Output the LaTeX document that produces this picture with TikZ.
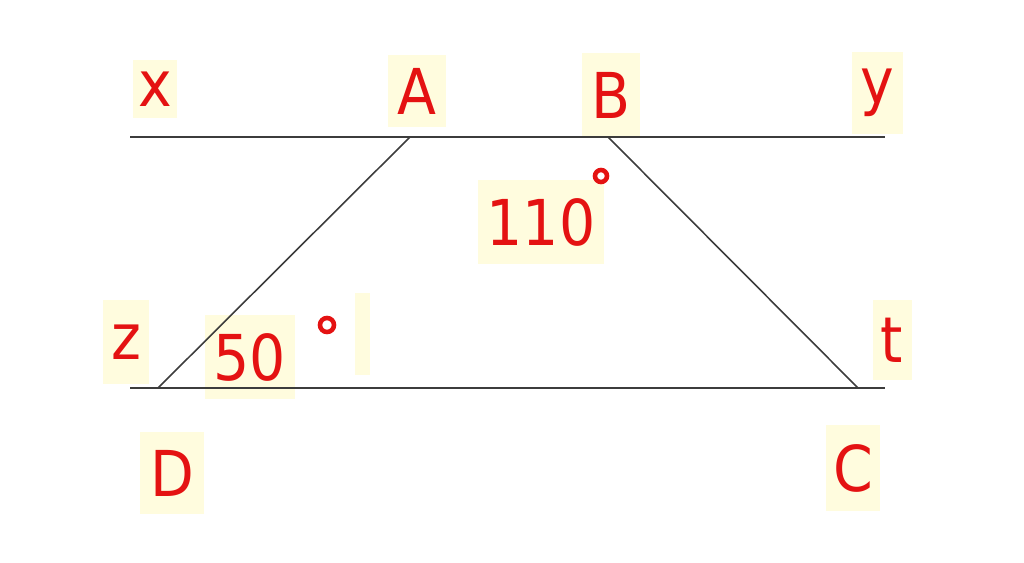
\documentclass[tikz,border=0pt]{standalone}
\usepackage{fontspec}
\setsansfont{DejaVu Sans Condensed}
\usepackage{tikz}
\usetikzlibrary{calc,positioning}
\definecolor{markred}{RGB}{228,18,18}
\definecolor{labelbg}{RGB}{255,252,222}
\definecolor{lineclr}{RGB}{60,60,60}
\tikzset{%
	lbl/.style    = {fill=labelbg, text=markred, inner sep=0pt, font=\sffamily\fontsize{36}{36}\selectfont},
	edge/.style   = {draw=lineclr, line width=0.9pt},
	degmark/.style = {draw=markred, line width=2.6pt},
}

\begin{document}
\begin{tikzpicture}[x=0.02cm,y=-0.02cm]
	\useasboundingbox (0,0) rectangle (1024,563);
	
	% points of the trapezium
	\coordinate (xx) at (130,137);
	\coordinate (yy) at (885,137);
	\coordinate (zz) at (130,388);
	\coordinate (tt) at (885,388);
	\coordinate (A) at (410,137);
	\coordinate (B) at (608,137);
	\coordinate (C) at (858,388);
	\coordinate (D) at (158,388);
	
	% label boxes
	\node[lbl, minimum width=0.9cm, minimum height=1.16cm] (labx) at (155,89) {x};
	\node[lbl, minimum width=1.16cm, minimum height=1.46cm] (labA) at (417,91) {A};
	\node[lbl, minimum width=1.16cm, minimum height=1.7cm] (labB) at (611,95) {B};
	\node[lbl, minimum width=1.02cm, minimum height=1.66cm] (laby) at (877,93) {y};
	\node[lbl, minimum width=0.94cm, minimum height=1.7cm] (labz) at (126,342) {z};
	\node[lbl, minimum width=1.8cm, minimum height=1.7cm] (lab50) at (250,357) {50};
	\node[lbl, minimum width=2.54cm, minimum height=1.7cm] (lab110) at (541,222) {110};
	\node[lbl, minimum width=0.78cm, minimum height=1.6cm] (labt) at (892,340) {t};
	\node[lbl, minimum width=1.3cm, minimum height=1.66cm] (labD) at (172,473) {D};
	\node[lbl, minimum width=1.08cm, minimum height=1.74cm] (labC) at (853,468) {C};
	\node[fill=labelbg, inner sep=0pt, minimum width=0.3cm, minimum height=1.64cm] (blank) at (362,334) {};
	
	% lines
	\draw[edge] (xx) -- (yy);  % upper line
	\draw[edge] (zz) -- (tt);  % lower line
	\draw[edge] (A) -- (D);
	\draw[edge] (B) -- (C);
	
	% degree marks
	\draw[degmark] (327,325) circle (0.14cm);
	\draw[degmark] (601,176) circle (0.12cm);
\end{tikzpicture}
\end{document}
